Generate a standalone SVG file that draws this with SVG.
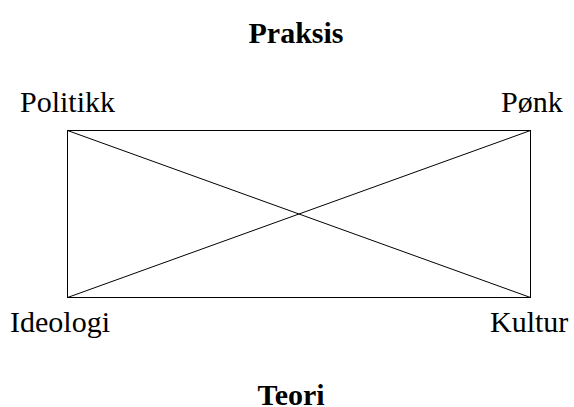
<svg xmlns="http://www.w3.org/2000/svg" width="574" height="407" viewBox="0 0 574 407">
<style>
.lbl{font-family:"Liberation Serif","Times New Roman",serif;font-size:30px;fill:#000}
.ttl{font-family:"Liberation Serif","Times New Roman",serif;font-size:30px;font-weight:bold;fill:#000;text-anchor:middle}
.ln{stroke:#000;stroke-width:1;fill:none}
</style>
<rect width="574" height="407" fill="#fff"/>
<g id="praksis"><text class="ttl" x="296" y="43">Praksis</text></g>
<g id="teori"><text class="ttl" x="291" y="405">Teori</text></g>
<g id="politikk"><text class="lbl" x="20" y="112">Politikk</text></g>
<g id="ponk"><text class="lbl" x="501" y="112">Pønk</text></g>
<g id="ideologi"><text class="lbl" x="10" y="332">Ideologi</text></g>
<g id="kultur"><text class="lbl" x="490" y="332">Kultur</text></g>
<g id="connectors">
<rect class="ln" x="67.5" y="130.5" width="463" height="167"/>
<line class="ln" x1="67.5" y1="130.5" x2="530.5" y2="297.5"/>
<line class="ln" x1="530.5" y1="130.5" x2="67.5" y2="297.5"/>
</g>
</svg>
